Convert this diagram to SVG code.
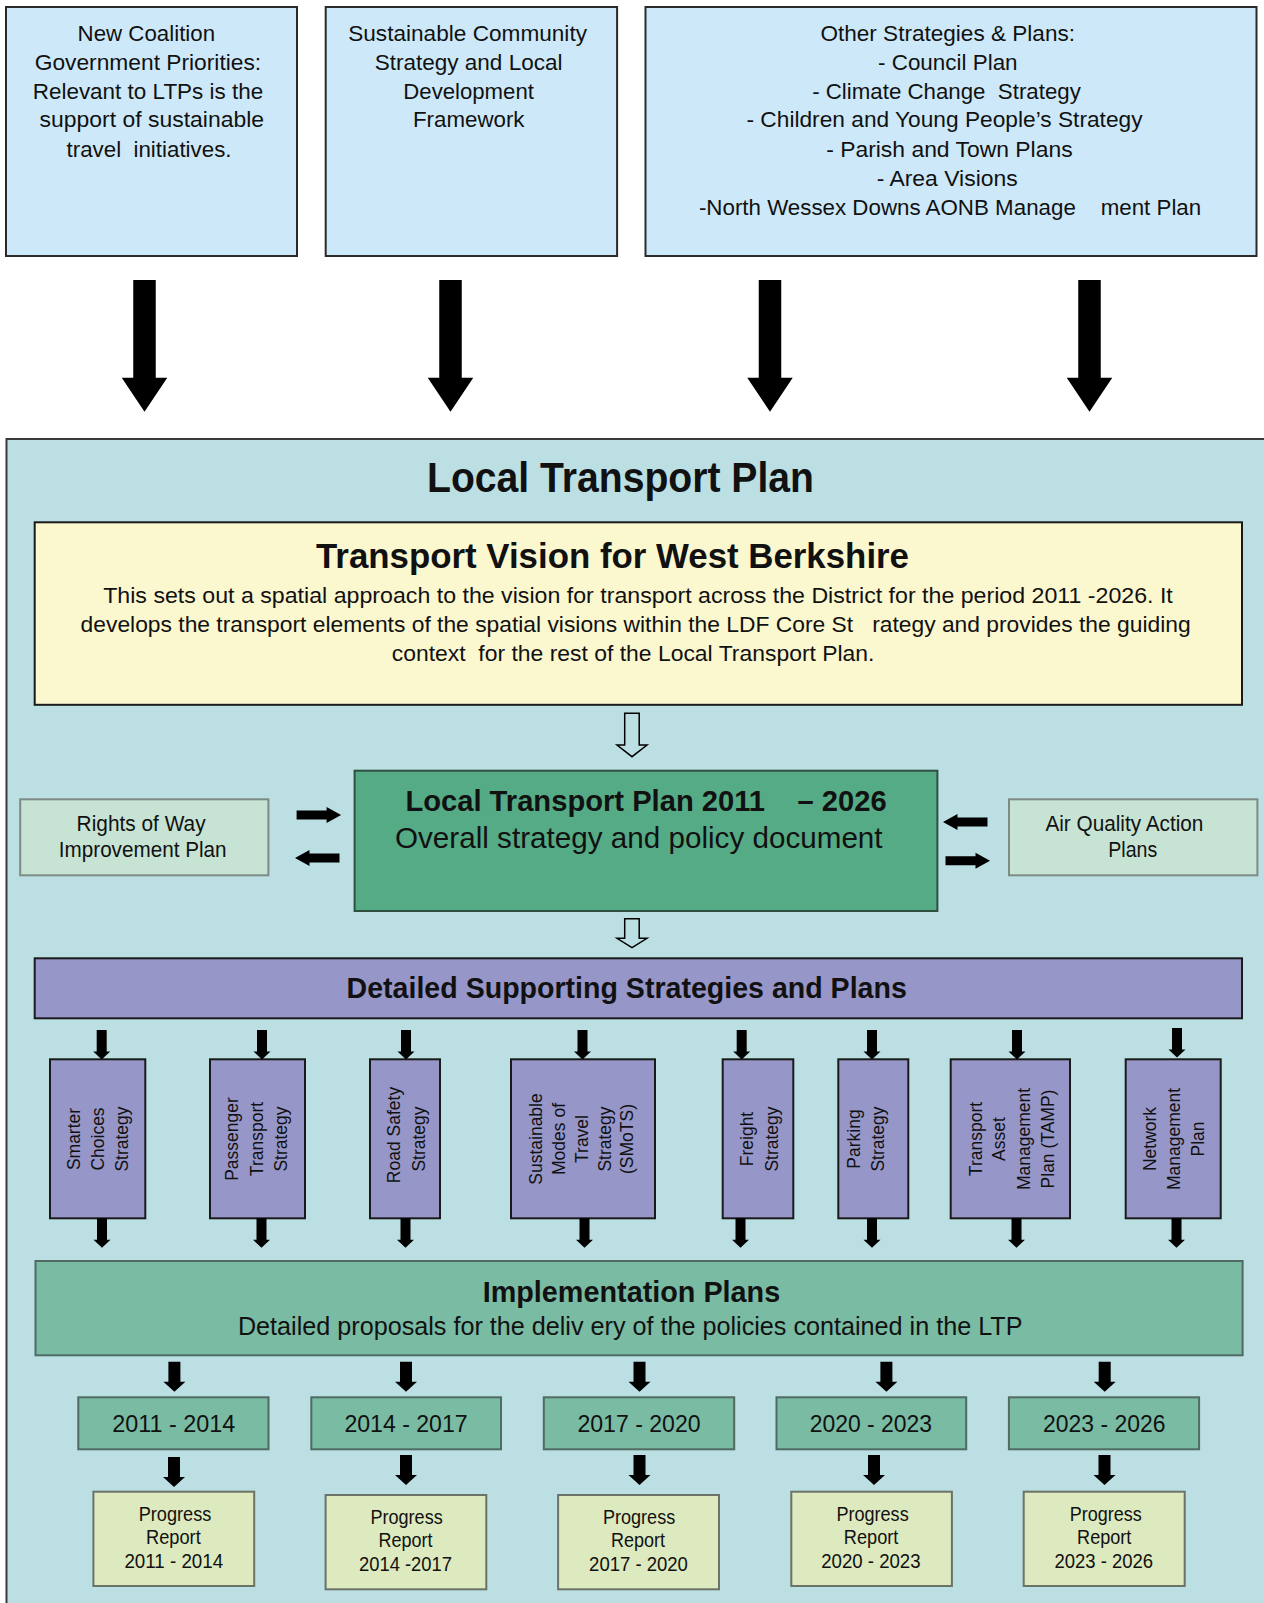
<svg xmlns="http://www.w3.org/2000/svg" xmlns:xlink="http://www.w3.org/1999/xlink" width="1264" height="1603" viewBox="0 0 1264 1603">
<style>
.n{font-family:"Liberation Sans Narrow","Arial Narrow","Liberation Sans",Arial,sans-serif;fill:#111;white-space:pre}
.b{font-weight:bold}
.v{font-family:"Liberation Sans",Arial,sans-serif;font-size:17.5px;fill:#111;text-anchor:middle}
.top{fill:#CDE9F9;stroke:#2a2a2a;stroke-width:2}
.strat{fill:#9696C8;stroke:#1a1a1a;stroke-width:2}
.impl{fill:#7ABBA4;stroke:#4f6b62;stroke-width:2}
.prog{fill:#DDE9BE;stroke:#6b7266;stroke-width:2}
.side{fill:#C7E3D3;stroke:#7d8a86;stroke-width:2}
.blk{fill:#000}
.hol{fill:none;stroke:#000;stroke-width:1.5}
</style>
<defs>
<polygon id="bigArrow" points="-11.25,0 11.25,0 11.25,97.7 22.75,97.7 0,131.7 -22.75,97.7 -11.25,97.7"/>
<polygon id="smallDown" points="-5,0 5,0 5,21.5 8.5,21.5 0,29.5 -8.5,21.5 -5,21.5"/>
<polygon id="midDown" points="-6,0 6,0 6,20 11,20 0,30 -11,20 -6,20"/>
<polygon id="sideR" points="0,-4.5 30,-4.5 30,-8 44.5,0 30,8 30,4.5 0,4.5"/>
<polygon id="sideL" points="44.5,-4.5 14.5,-4.5 14.5,-8 0,0 14.5,8 14.5,4.5 44.5,4.5"/>
</defs>

<rect x="0" y="0" width="1264" height="1603" fill="#fff"/>

<g id="node-coalition">
<rect class="top" x="6" y="7" width="291" height="249"/>
<text class="n" font-size="22.5"><tspan x="77.6" y="40.7" textLength="137.5" lengthAdjust="spacingAndGlyphs">New Coalition</tspan></text>
<text class="n" font-size="22.5"><tspan x="34.7" y="69.5" textLength="226.5" lengthAdjust="spacingAndGlyphs">Government Priorities:</tspan></text>
<text class="n" font-size="22.5"><tspan x="32.7" y="98.5" textLength="230.6" lengthAdjust="spacingAndGlyphs">Relevant to LTPs is the</tspan></text>
<text class="n" font-size="22.5"><tspan x="39.6" y="127.4" textLength="224.5" lengthAdjust="spacingAndGlyphs">support of sustainable</tspan></text>
<text class="n" font-size="22.5" xml:space="preserve"><tspan x="66.5" y="156.7" textLength="165" lengthAdjust="spacingAndGlyphs">travel  initiatives.</tspan></text>
</g>

<g id="node-community">
<rect class="top" x="325.7" y="7" width="291.4" height="249"/>
<text class="n" font-size="22.5"><tspan x="348.2" y="40.7" textLength="238.8" lengthAdjust="spacingAndGlyphs">Sustainable Community</tspan></text>
<text class="n" font-size="22.5"><tspan x="374.7" y="69.5" textLength="187.8" lengthAdjust="spacingAndGlyphs">Strategy and Local</tspan></text>
<text class="n" font-size="22.5"><tspan x="403.3" y="98.5" textLength="130.6" lengthAdjust="spacingAndGlyphs">Development</tspan></text>
<text class="n" font-size="22.5"><tspan x="413" y="127.4" textLength="111.5" lengthAdjust="spacingAndGlyphs">Framework</tspan></text>
</g>

<g id="node-other">
<rect class="top" x="645.5" y="7" width="611" height="249"/>
<text class="n" font-size="22.5"><tspan x="820.4" y="40.7" textLength="254.6" lengthAdjust="spacingAndGlyphs">Other Strategies &amp; Plans:</tspan></text>
<text class="n" font-size="22.5"><tspan x="878" y="69.5" textLength="139.6" lengthAdjust="spacingAndGlyphs">- Council Plan</tspan></text>
<text class="n" font-size="22.5" xml:space="preserve"><tspan x="812.2" y="98.5" textLength="268.6" lengthAdjust="spacingAndGlyphs">- Climate Change  Strategy</tspan></text>
<text class="n" font-size="22.5"><tspan x="746.5" y="127.4" textLength="396" lengthAdjust="spacingAndGlyphs">- Children and Young People’s Strategy</tspan></text>
<text class="n" font-size="22.5"><tspan x="826.2" y="156.7" textLength="246.4" lengthAdjust="spacingAndGlyphs">- Parish and Town Plans</tspan></text>
<text class="n" font-size="22.5"><tspan x="876.7" y="185.7" textLength="141" lengthAdjust="spacingAndGlyphs">- Area Visions</tspan></text>
<text class="n" font-size="22.5" xml:space="preserve"><tspan x="698.9" y="215" textLength="502.3" lengthAdjust="spacingAndGlyphs">-North Wessex Downs AONB Manage    ment Plan</tspan></text>
</g>

<g id="node-ltp">
<rect x="6.5" y="439" width="1300" height="1200" fill="#BCDFE3" stroke="#3a3a3a" stroke-width="2"/>
<text class="n b" font-size="42"><tspan x="427" y="491.7" textLength="387" lengthAdjust="spacingAndGlyphs">Local Transport Plan</tspan></text>
</g>

<g id="node-vision">
<rect x="34.7" y="522.3" width="1207.3" height="182.5" fill="#FBF8D0" stroke="#1a1a1a" stroke-width="2"/>
<text class="n b" font-size="35"><tspan x="316" y="568.3" textLength="593" lengthAdjust="spacingAndGlyphs">Transport Vision for West Berkshire</tspan></text>
<text class="n" font-size="22.5"><tspan x="103.2" y="602.7" textLength="1069.6" lengthAdjust="spacingAndGlyphs">This sets out a spatial approach to the vision for transport across the District for the period 2011 -2026. It</tspan></text>
<text class="n" font-size="22.5" xml:space="preserve"><tspan x="80.6" y="631.7" textLength="1110" lengthAdjust="spacingAndGlyphs">develops the transport elements of the spatial visions within the LDF Core St   rategy and provides the guiding</tspan></text>
<text class="n" font-size="22.5" xml:space="preserve"><tspan x="391.7" y="660.7" textLength="482.8" lengthAdjust="spacingAndGlyphs">context  for the rest of the Local Transport Plan.</tspan></text>
</g>

<g id="node-ltp-2011-2026">
<rect x="354.6" y="770.7" width="582.8" height="140.3" fill="#55AB85" stroke="#2f4f40" stroke-width="2"/>
<text class="n b" font-size="30" xml:space="preserve"><tspan x="405.4" y="811" textLength="481.2" lengthAdjust="spacingAndGlyphs">Local Transport Plan 2011    – 2026</tspan></text>
<text class="n" font-size="29"><tspan x="395" y="848.3" textLength="487.6" lengthAdjust="spacingAndGlyphs">Overall strategy and policy document</tspan></text>
</g>

<g id="node-rights-of-way">
<rect class="side" x="20.2" y="799.3" width="248.2" height="76"/>
<text class="n" font-size="22"><tspan x="76.6" y="831" textLength="129" lengthAdjust="spacingAndGlyphs">Rights of Way</tspan></text>
<text class="n" font-size="22"><tspan x="58.8" y="857.3" textLength="167.7" lengthAdjust="spacingAndGlyphs">Improvement Plan</tspan></text>
</g>

<g id="node-air-quality">
<rect class="side" x="1009" y="799.3" width="248.4" height="76"/>
<text class="n" font-size="22"><tspan x="1045.4" y="831" textLength="158" lengthAdjust="spacingAndGlyphs">Air Quality Action</tspan></text>
<text class="n" font-size="22"><tspan x="1108.3" y="857.3" textLength="49" lengthAdjust="spacingAndGlyphs">Plans</tspan></text>
</g>

<g id="node-detailed">
<rect x="34.7" y="958.3" width="1207.3" height="60" fill="#9696C8" stroke="#1a1a1a" stroke-width="2"/>
<text class="n b" font-size="29"><tspan x="346.6" y="997.7" textLength="560.2" lengthAdjust="spacingAndGlyphs">Detailed Supporting Strategies and Plans</tspan></text>
</g>

<g id="node-smarter">
<rect class="strat" x="50" y="1059.3" width="95.3" height="159"/>
<text class="v" transform="translate(79.5,1139) rotate(-90)">Smarter</text>
<text class="v" transform="translate(103.5,1139) rotate(-90)">Choices</text>
<text class="v" transform="translate(127.5,1139) rotate(-90)">Strategy</text>
</g>
<g id="node-passenger">
<rect class="strat" x="210" y="1059.3" width="95" height="159"/>
<text class="v" transform="translate(238.3,1139) rotate(-90)">Passenger</text>
<text class="v" transform="translate(262.7,1139) rotate(-90)">Transport</text>
<text class="v" transform="translate(287,1139) rotate(-90)">Strategy</text>
</g>
<g id="node-road-safety">
<rect class="strat" x="370" y="1059.3" width="70" height="159"/>
<text class="v" transform="translate(400,1135) rotate(-90)">Road Safety</text>
<text class="v" transform="translate(424.5,1139) rotate(-90)">Strategy</text>
</g>
<g id="node-smots">
<rect class="strat" x="511" y="1059.3" width="144" height="159"/>
<text class="v" transform="translate(541.5,1139) rotate(-90)">Sustainable</text>
<text class="v" transform="translate(565,1139) rotate(-90)">Modes of</text>
<text class="v" transform="translate(588,1139) rotate(-90)">Travel</text>
<text class="v" transform="translate(611,1139) rotate(-90)">Strategy</text>
<text class="v" transform="translate(633,1139) rotate(-90)">(SMoTS)</text>
</g>
<g id="node-freight">
<rect class="strat" x="722.7" y="1059.3" width="70.6" height="159"/>
<text class="v" transform="translate(753.3,1139) rotate(-90)">Freight</text>
<text class="v" transform="translate(777.5,1139) rotate(-90)">Strategy</text>
</g>
<g id="node-parking">
<rect class="strat" x="838.3" y="1059.3" width="70" height="159"/>
<text class="v" transform="translate(859.5,1139) rotate(-90)">Parking</text>
<text class="v" transform="translate(884,1139) rotate(-90)">Strategy</text>
</g>
<g id="node-tamp">
<rect class="strat" x="950.7" y="1059.3" width="119.3" height="159"/>
<text class="v" transform="translate(981.7,1139) rotate(-90)">Transport</text>
<text class="v" transform="translate(1005,1139) rotate(-90)">Asset</text>
<text class="v" transform="translate(1030,1139) rotate(-90)">Management</text>
<text class="v" transform="translate(1054,1139) rotate(-90)">Plan (TAMP)</text>
</g>
<g id="node-network">
<rect class="strat" x="1125.7" y="1059.3" width="95" height="159"/>
<text class="v" transform="translate(1156,1139) rotate(-90)">Network</text>
<text class="v" transform="translate(1180,1139) rotate(-90)">Management</text>
<text class="v" transform="translate(1204,1139) rotate(-90)">Plan</text>
</g>

<g id="node-implementation">
<rect class="impl" x="35.5" y="1261" width="1207.1" height="94.3"/>
<text class="n b" font-size="30"><tspan x="482.7" y="1301.7" textLength="297.5" lengthAdjust="spacingAndGlyphs">Implementation Plans</tspan></text>
<text class="n" font-size="25.5"><tspan x="237.9" y="1335" textLength="784.6" lengthAdjust="spacingAndGlyphs">Detailed proposals for the deliv ery of the policies contained in the LTP</tspan></text>
</g>

<g id="node-y2011">
<rect class="impl" x="78.3" y="1397.3" width="190.2" height="52"/>
<text class="n" font-size="24.5"><tspan x="112.2" y="1431.7" textLength="123.2" lengthAdjust="spacingAndGlyphs">2011 - 2014</tspan></text>
</g>
<g id="node-y2014">
<rect class="impl" x="311.3" y="1397.3" width="189.7" height="52"/>
<text class="n" font-size="24.5"><tspan x="344.4" y="1431.7" textLength="123.2" lengthAdjust="spacingAndGlyphs">2014 - 2017</tspan></text>
</g>
<g id="node-y2017">
<rect class="impl" x="543.8" y="1397.3" width="190.4" height="52"/>
<text class="n" font-size="24.5"><tspan x="577.4" y="1431.7" textLength="123.2" lengthAdjust="spacingAndGlyphs">2017 - 2020</tspan></text>
</g>
<g id="node-y2020">
<rect class="impl" x="776.5" y="1397.3" width="189.7" height="52"/>
<text class="n" font-size="24.5"><tspan x="809.7" y="1431.7" textLength="122.4" lengthAdjust="spacingAndGlyphs">2020 - 2023</tspan></text>
</g>
<g id="node-y2023">
<rect class="impl" x="1008.9" y="1397.3" width="190.2" height="52"/>
<text class="n" font-size="24.5"><tspan x="1043" y="1431.7" textLength="122.4" lengthAdjust="spacingAndGlyphs">2023 - 2026</tspan></text>
</g>

<g id="node-p2011">
<rect class="prog" x="93.4" y="1491.7" width="160.8" height="94.3"/>
<text class="n" font-size="20"><tspan x="138.7" y="1521" textLength="72.6" lengthAdjust="spacingAndGlyphs">Progress</tspan></text>
<text class="n" font-size="20"><tspan x="146" y="1544" textLength="54.7" lengthAdjust="spacingAndGlyphs">Report</tspan></text>
<text class="n" font-size="20"><tspan x="124.4" y="1568.3" textLength="98.8" lengthAdjust="spacingAndGlyphs">2011 - 2014</tspan></text>
</g>
<g id="node-p2014">
<rect class="prog" x="325.6" y="1495" width="160.7" height="94.3"/>
<text class="n" font-size="20"><tspan x="370.5" y="1524.3" textLength="72.2" lengthAdjust="spacingAndGlyphs">Progress</tspan></text>
<text class="n" font-size="20"><tspan x="378.6" y="1546.7" textLength="54" lengthAdjust="spacingAndGlyphs">Report</tspan></text>
<text class="n" font-size="20"><tspan x="359" y="1571" textLength="93" lengthAdjust="spacingAndGlyphs">2014 -2017</tspan></text>
</g>
<g id="node-p2017">
<rect class="prog" x="558.1" y="1495" width="160.9" height="94.3"/>
<text class="n" font-size="20"><tspan x="603" y="1524.3" textLength="72.2" lengthAdjust="spacingAndGlyphs">Progress</tspan></text>
<text class="n" font-size="20"><tspan x="611.1" y="1546.7" textLength="54" lengthAdjust="spacingAndGlyphs">Report</tspan></text>
<text class="n" font-size="20"><tspan x="589.1" y="1571" textLength="98.8" lengthAdjust="spacingAndGlyphs">2017 - 2020</tspan></text>
</g>
<g id="node-p2020">
<rect class="prog" x="791.3" y="1491.7" width="160.6" height="94.3"/>
<text class="n" font-size="20"><tspan x="836.4" y="1521" textLength="72.3" lengthAdjust="spacingAndGlyphs">Progress</tspan></text>
<text class="n" font-size="20"><tspan x="843.8" y="1544" textLength="54.6" lengthAdjust="spacingAndGlyphs">Report</tspan></text>
<text class="n" font-size="20"><tspan x="821.2" y="1568.3" textLength="99.4" lengthAdjust="spacingAndGlyphs">2020 - 2023</tspan></text>
</g>
<g id="node-p2023">
<rect class="prog" x="1023.7" y="1491.7" width="161" height="94.3"/>
<text class="n" font-size="20"><tspan x="1069.7" y="1521" textLength="72" lengthAdjust="spacingAndGlyphs">Progress</tspan></text>
<text class="n" font-size="20"><tspan x="1077.1" y="1544" textLength="54.2" lengthAdjust="spacingAndGlyphs">Report</tspan></text>
<text class="n" font-size="20"><tspan x="1054.5" y="1568.3" textLength="98.6" lengthAdjust="spacingAndGlyphs">2023 - 2026</tspan></text>
</g>

<g id="connectors">
<use href="#bigArrow" class="blk" x="144.5" y="280"/>
<use href="#bigArrow" class="blk" x="450.5" y="280"/>
<use href="#bigArrow" class="blk" x="770" y="280"/>
<use href="#bigArrow" class="blk" x="1089.5" y="280"/>

<polygon class="hol" points="624.7,713.3 639.2,713.3 639.2,745 647,745 632,756.7 617,745 624.7,745"/>
<polygon class="hol" points="624.7,918.7 639.2,918.7 639.2,938.3 647,938.3 632,947.7 617,938.3 624.7,938.3"/>

<use href="#sideR" class="blk" x="296.6" y="815"/>
<use href="#sideL" class="blk" x="295" y="858"/>
<use href="#sideL" class="blk" x="943" y="822"/>
<use href="#sideR" class="blk" x="945.5" y="860.7"/>

<use href="#smallDown" class="blk" x="101.7" y="1030"/>
<use href="#smallDown" class="blk" x="262" y="1030"/>
<use href="#smallDown" class="blk" x="406" y="1030"/>
<use href="#smallDown" class="blk" x="582.5" y="1030"/>
<use href="#smallDown" class="blk" x="741.7" y="1030"/>
<use href="#smallDown" class="blk" x="872" y="1030"/>
<use href="#smallDown" class="blk" x="1017" y="1030"/>
<use href="#smallDown" class="blk" x="1177" y="1028"/>

<use href="#smallDown" class="blk" x="102" y="1218.3"/>
<use href="#smallDown" class="blk" x="261.5" y="1218.3"/>
<use href="#smallDown" class="blk" x="405.5" y="1218.3"/>
<use href="#smallDown" class="blk" x="584.5" y="1218.3"/>
<use href="#smallDown" class="blk" x="740.5" y="1218.3"/>
<use href="#smallDown" class="blk" x="872" y="1218.3"/>
<use href="#smallDown" class="blk" x="1016.5" y="1218.3"/>
<use href="#smallDown" class="blk" x="1176.5" y="1218.3"/>

<use href="#midDown" class="blk" x="174.4" y="1361.7"/>
<use href="#midDown" class="blk" x="406" y="1361.7"/>
<use href="#midDown" class="blk" x="639.5" y="1361.7"/>
<use href="#midDown" class="blk" x="886.4" y="1361.7"/>
<use href="#midDown" class="blk" x="1104.7" y="1361.7"/>

<use href="#midDown" class="blk" x="174" y="1457"/>
<use href="#midDown" class="blk" x="406" y="1455"/>
<use href="#midDown" class="blk" x="639.5" y="1455"/>
<use href="#midDown" class="blk" x="874" y="1455"/>
<use href="#midDown" class="blk" x="1104.5" y="1455"/>
</g>
</svg>
